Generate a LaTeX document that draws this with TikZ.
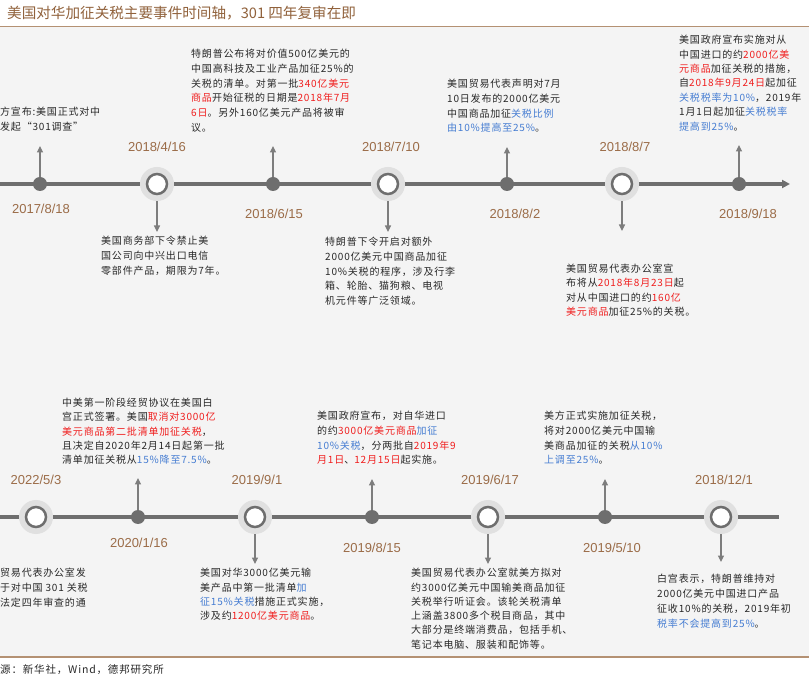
\documentclass[tikz,border=0pt]{standalone}
\usepackage{fontspec}
\setmainfont[LetterSpace=8]{Noto Sans CJK SC}
\newfontfamily\titlefont{Noto Sans CJK SC}
\newfontfamily\datefont{Liberation Sans}
\usetikzlibrary{arrows.meta}
\definecolor{bgc}{RGB}{244,244,244}
\definecolor{txtc}{RGB}{40,40,40}
\definecolor{redc}{RGB}{240,30,30}
\definecolor{bluec}{RGB}{70,125,210}
\definecolor{linec}{RGB}{110,110,110}
\definecolor{haloc}{RGB}{224,224,224}
\definecolor{arrc}{RGB}{125,125,125}
\definecolor{datec}{RGB}{155,108,72}
\definecolor{titlec}{RGB}{145,98,60}
\definecolor{rulec}{RGB}{180,145,115}
\newcommand\hlr[1]{\textcolor{redc}{#1}}
\newcommand\hlb[1]{\textcolor{bluec}{#1}}
\tikzset{
  evt/.style={anchor=north west, align=left, inner sep=0pt, font=\fontsize{10}{14.7}\selectfont, text=txtc},
  datelbl/.style={font=\datefont\fontsize{13}{13}\selectfont, text=datec, inner sep=0pt},
  smalldot/.style={circle, fill=linec, minimum size=14pt, inner sep=0pt},
  bigdot/.style={circle, draw=linec, line width=2.5pt, fill=white, minimum size=20pt, inner sep=0pt},
  halo/.style={circle, fill=haloc, minimum size=34pt, inner sep=0pt},
  evarrow/.style={draw=arrc, line width=1.1pt, -{Triangle[width=6pt,length=6.5pt]}},
  tline/.style={draw=linec, line width=3.5pt},
}
\begin{document}
\begin{tikzpicture}[x=1pt,y=-1pt]
\useasboundingbox (0,0) rectangle (809,692);
\fill[white] (0,0) rectangle (809,692);
\fill[bgc] (0,27) rectangle (809,657);
\draw[rulec, line width=1.5pt] (0,26.5) -- (809,26.5);
\draw[rulec, line width=1.5pt] (0,657) -- (809,657);
\node[anchor=west, inner sep=0pt, font=\titlefont\fontsize{14.6}{15}\selectfont, text=titlec] (title) at (7,13) {美国对华加征关税主要事件时间轴，301 四年复审在即};
\node[anchor=west, inner sep=0pt, font=\fontsize{10.5}{12}\selectfont, text=txtc] (src) at (0,670) {源：新华社，Wind，德邦研究所};

% ---------- top timeline ----------
\coordinate (tlA) at (0,184);
\coordinate (tlB) at (790,184);
\draw[tline, -{Triangle[width=8pt,length=8pt]}] (tlA) -- (tlB);

\coordinate (a1t) at (40,146);
\coordinate (a2t) at (157,232);
\coordinate (a3t) at (273,146);
\coordinate (a4t) at (388,232);
\coordinate (a5t) at (507,147);
\coordinate (a6t) at (622,231);
\coordinate (a7t) at (739,145);

\node[smalldot] (a1) at (40,184) {};
\node[halo] (a2h) at (157,184) {};
\node[bigdot] (a2) at (157,184) {};
\node[smalldot] (a3) at (273,184) {};
\node[halo] (a4h) at (388,184) {};
\node[bigdot] (a4) at (388,184) {};
\node[smalldot] (a5) at (507,184) {};
\node[halo] (a6h) at (622,184) {};
\node[bigdot] (a6) at (622,184) {};
\node[smalldot] (a7) at (739,184) {};

\draw[evarrow] (a1.north) -- (a1t);
\draw[evarrow] (a2h.south) -- (a2t);
\draw[evarrow] (a3.north) -- (a3t);
\draw[evarrow] (a4h.south) -- (a4t);
\draw[evarrow] (a5.north) -- (a5t);
\draw[evarrow] (a6h.south) -- (a6t);
\draw[evarrow] (a7.north) -- (a7t);

\node[datelbl] (a1d) at (41,209) {2017/8/18};
\node[datelbl] (a2d) at (157,147) {2018/4/16};
\node[datelbl] (a3d) at (274,214) {2018/6/15};
\node[datelbl] (a4d) at (391,147) {2018/7/10};
\node[datelbl] (a5d) at (515,214) {2018/8/2};
\node[datelbl] (a6d) at (625,147) {2018/8/7};
\node[datelbl] (a7d) at (748,214) {2018/9/18};

\node[evt] (a1x) at (0,107) {方宣布:美国正式对中\\发起“301调查”};
\node[evt] (a2x) at (101,236) {美国商务部下令禁止美\\国公司向中兴出口电信\\零部件产品，期限为7年。};
\node[evt] (a3x) at (191,49) {特朗普公布将对价值500亿美元的\\中国高科技及工业产品加征25\%的\\关税的清单。对第一批\hlr{340亿美元}\\\hlr{商品}开始征税的日期是\hlr{2018年7月}\\\hlr{6日}。另外160亿美元产品将被审\\议。};
\node[evt] (a4x) at (325,237) {特朗普下令开启对额外\\2000亿美元中国商品加征\\10\%关税的程序，涉及行李\\箱、轮胎、猫狗粮、电视\\机元件等广泛领域。};
\node[evt] (a5x) at (447,79) {美国贸易代表声明对7月\\10日发布的2000亿美元\\中国商品加征\hlb{关税比例}\\\hlb{由10\%提高至25\%}。};
\node[evt, font=\fontsize{10}{14.2}\selectfont] (a6x) at (566,264) {美国贸易代表办公室宣\\布将从\hlr{2018年8月23日}起\\对从中国进口的约\hlr{160亿}\\\hlr{美元商品}加征25\%的关税。};
\node[evt, font=\fontsize{10}{14.4}\selectfont] (a7x) at (679,35) {美国政府宣布实施对从\\中国进口的约\hlr{2000亿美}\\\hlr{元商品}加征关税的措施，\\自\hlr{2018年9月24日}起加征\\\hlb{关税税率为10\%}，2019年\\1月1日起加征\hlb{关税税率}\\\hlb{提高到25\%}。};

% ---------- bottom timeline ----------
\coordinate (blA) at (0,517);
\coordinate (blB) at (779,517);
\draw[tline] (blA) -- (blB);

\coordinate (b2t) at (138,478);
\coordinate (b3t) at (255,564);
\coordinate (b4t) at (372,479);
\coordinate (b5t) at (488,564);
\coordinate (b6t) at (605,479);
\coordinate (b7t) at (721,562);

\node[halo] (b1h) at (36,517) {};
\node[bigdot] (b1) at (36,517) {};
\node[smalldot] (b2) at (138,517) {};
\node[halo] (b3h) at (255,517) {};
\node[bigdot] (b3) at (255,517) {};
\node[smalldot] (b4) at (372,517) {};
\node[halo] (b5h) at (488,517) {};
\node[bigdot] (b5) at (488,517) {};
\node[smalldot] (b6) at (605,517) {};
\node[halo] (b7h) at (721,517) {};
\node[bigdot] (b7) at (721,517) {};

\draw[evarrow] (b2.north) -- (b2t);
\draw[evarrow] (b3h.south) -- (b3t);
\draw[evarrow] (b4.north) -- (b4t);
\draw[evarrow] (b5h.south) -- (b5t);
\draw[evarrow] (b6.north) -- (b6t);
\draw[evarrow] (b7h.south) -- (b7t);

\node[datelbl] (b1d) at (36,480) {2022/5/3};
\node[datelbl] (b2d) at (139,543) {2020/1/16};
\node[datelbl] (b3d) at (257,480) {2019/9/1};
\node[datelbl] (b4d) at (372,548) {2019/8/15};
\node[datelbl] (b5d) at (490,480) {2019/6/17};
\node[datelbl] (b6d) at (612,548) {2019/5/10};
\node[datelbl] (b7d) at (724,480) {2018/12/1};

\node[evt] (b1x) at (0,568) {贸易代表办公室发\\于对中国 301 关税\\法定四年审查的通};
\node[evt, font=\fontsize{10}{14.3}\selectfont] (b2x) at (62,398) {中美第一阶段经贸协议在美国白\\宫正式签署。美国\hlr{取消对3000亿}\\\hlr{美元商品第二批清单加征关税}，\\且决定自2020年2月14日起第一批\\清单加征关税从\hlb{15\%降至7.5\%}。};
\node[evt, font=\fontsize{10}{14.4}\selectfont] (b3x) at (200,568) {美国对华3000亿美元输\\美产品中第一批清单\hlb{加}\\\hlb{征15\%关税}措施正式实施，\\涉及约\hlr{1200亿美元商品}。};
\node[evt] (b4x) at (317,411) {美国政府宣布，对自华进口\\的约\hlr{3000亿美元商品}\hlb{加征}\\\hlb{10\%关税}，分两批自\hlr{2019年9}\\\hlr{月1日}、\hlr{12月15日}起实施。};
\node[evt, font=\fontsize{10}{14.3}\selectfont] (b5x) at (411,568) {美国贸易代表办公室就美方拟对\\约3000亿美元中国输美商品加征\\关税举行听证会。该轮关税清单\\上涵盖3800多个税目商品，其中\\大部分是终端消费品，包括手机、\\笔记本电脑、服装和配饰等。};
\node[evt] (b6x) at (544,411) {美方正式实施加征关税，\\将对2000亿美元中国输\\美商品加征的关税\hlb{从10\%}\\\hlb{上调至25\%}。};
\node[evt, font=\fontsize{10}{15}\selectfont] (b7x) at (657,574) {白宫表示，特朗普维持对\\2000亿美元中国进口产品\\征收10\%的关税，2019年初\\\hlb{税率不会提高到25\%}。};
\end{tikzpicture}
\end{document}
